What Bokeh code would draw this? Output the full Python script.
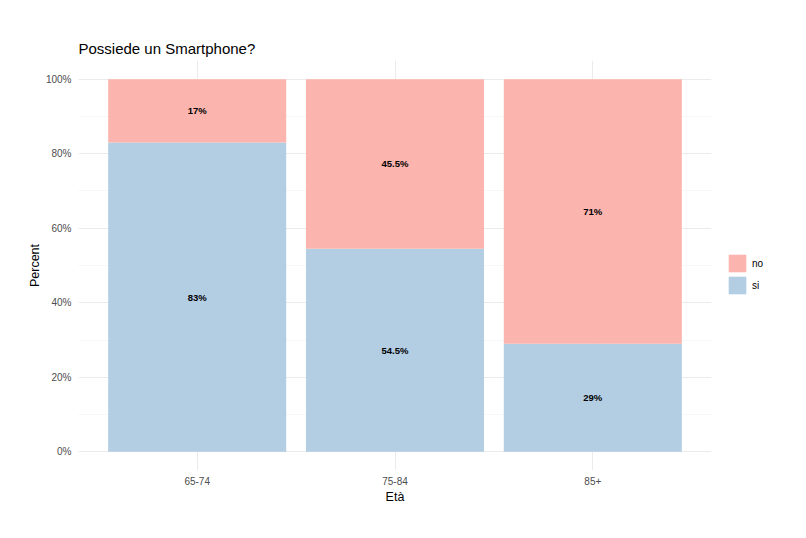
from bokeh.plotting import figure
from bokeh.models import FixedTicker, Legend, LegendItem, ColumnDataSource, Range1d
from bokeh.embed import file_html
from bokeh.resources import INLINE
from bokeh.core.properties import value

categories = ["65-74", "75-84", "85+"]
si = [0.83, 0.545, 0.29]
no = [0.17, 0.455, 0.71]
si_labels = ["83%", "54.5%", "29%"]
no_labels = ["17%", "45.5%", "71%"]
y_ticks = [0, 0.2, 0.4, 0.6, 0.8, 1.0]
y_minor = [0.1, 0.3, 0.5, 0.7, 0.9]
y_tick_labels = ["0%", "20%", "40%", "60%", "80%", "100%"]

BLUE = "#B3CDE3"
PINK = "#FBB4AE"
FONT = "Liberation Sans"

xs = list(range(1, len(categories) + 1))
src = ColumnDataSource(dict(
    x=xs, si=si, no=no,
    si_mid=[s / 2 for s in si],
    no_mid=[s + n / 2 for s, n in zip(si, no)],
    si_lab=si_labels, no_lab=no_labels,
))

p = figure(frame_width=633, frame_height=410, output_backend="svg", toolbar_location=None,
           x_range=Range1d(0.4, 3.6), y_range=Range1d(-0.05, 1.05),
           min_border_left=78, min_border_right=87, min_border_top=60, min_border_bottom=58,
           title="Possiede un Smartphone?")

p.outline_line_color = None
p.background_fill_color = "white"
p.border_fill_color = "white"

rs = p.vbar_stack(["si", "no"], x="x", width=0.9, fill_color=[BLUE, PINK],
                  line_color=None, source=src)

p.text(x="x", y="si_mid", text="si_lab", source=src, text_align="center",
       text_baseline="middle", text_font=value(FONT), text_font_style="bold",
       text_font_size="9.5px", text_color="black")
p.text(x="x", y="no_mid", text="no_lab", source=src, text_align="center",
       text_baseline="middle", text_font=value(FONT), text_font_style="bold",
       text_font_size="9.5px", text_color="black")

# axes
p.xaxis.ticker = FixedTicker(ticks=xs)
p.xaxis.major_label_overrides = {x: c for x, c in zip(xs, categories)}
p.yaxis.ticker = FixedTicker(ticks=y_ticks, minor_ticks=y_minor)
p.yaxis.major_label_overrides = {t: l for t, l in zip(y_ticks, y_tick_labels)}
for ax in (p.xaxis, p.yaxis):
    ax.axis_line_color = None
    ax.major_tick_line_color = None
    ax.minor_tick_line_color = None
    ax.major_tick_out = 0
    ax.major_tick_in = 0
    ax.minor_tick_out = 0
    ax.minor_tick_in = 0
    ax.major_label_text_font = FONT
    ax.major_label_text_font_size = "10px"
    ax.major_label_text_color = "#4D4D4D"
    ax.axis_label_text_font = FONT
    ax.axis_label_text_font_size = "12.5px"
    ax.axis_label_text_font_style = "normal"
    ax.axis_label_text_color = "black"
p.xaxis.axis_label = "Età"
p.yaxis.axis_label = "Percent"
p.xaxis.major_label_standoff = 6
p.xaxis.axis_label_standoff = 2
p.yaxis.major_label_standoff = 7
p.yaxis.axis_label_standoff = 1

# grid
p.xgrid.ticker = FixedTicker(ticks=xs)
p.ygrid.ticker = FixedTicker(ticks=y_ticks, minor_ticks=y_minor)
p.xgrid.grid_line_color = "#EBEBEB"
p.ygrid.grid_line_color = "#EBEBEB"
p.xgrid.grid_line_width = 1
p.ygrid.grid_line_width = 1
p.ygrid.minor_grid_line_color = "#F2F2F2"
p.ygrid.minor_grid_line_width = 0.6

# title
p.title.text_font = FONT
p.title.text_font_size = "15px"
p.title.text_font_style = "normal"
p.title.text_color = "black"
p.title.align = "left"
p.title.standoff = 7

legend = Legend(items=[LegendItem(label="no", renderers=[rs[1]]),
                       LegendItem(label="si", renderers=[rs[0]])],
                location=(15, 174), margin=0, padding=0,
                glyph_width=22, glyph_height=22, label_standoff=4, spacing=-3,
                label_text_font=FONT, label_text_font_size="10px",
                label_text_color="black", border_line_color=None,
                background_fill_alpha=0)
p.add_layout(legend, "right")

open("out.html", "w").write(file_html(p, INLINE))
